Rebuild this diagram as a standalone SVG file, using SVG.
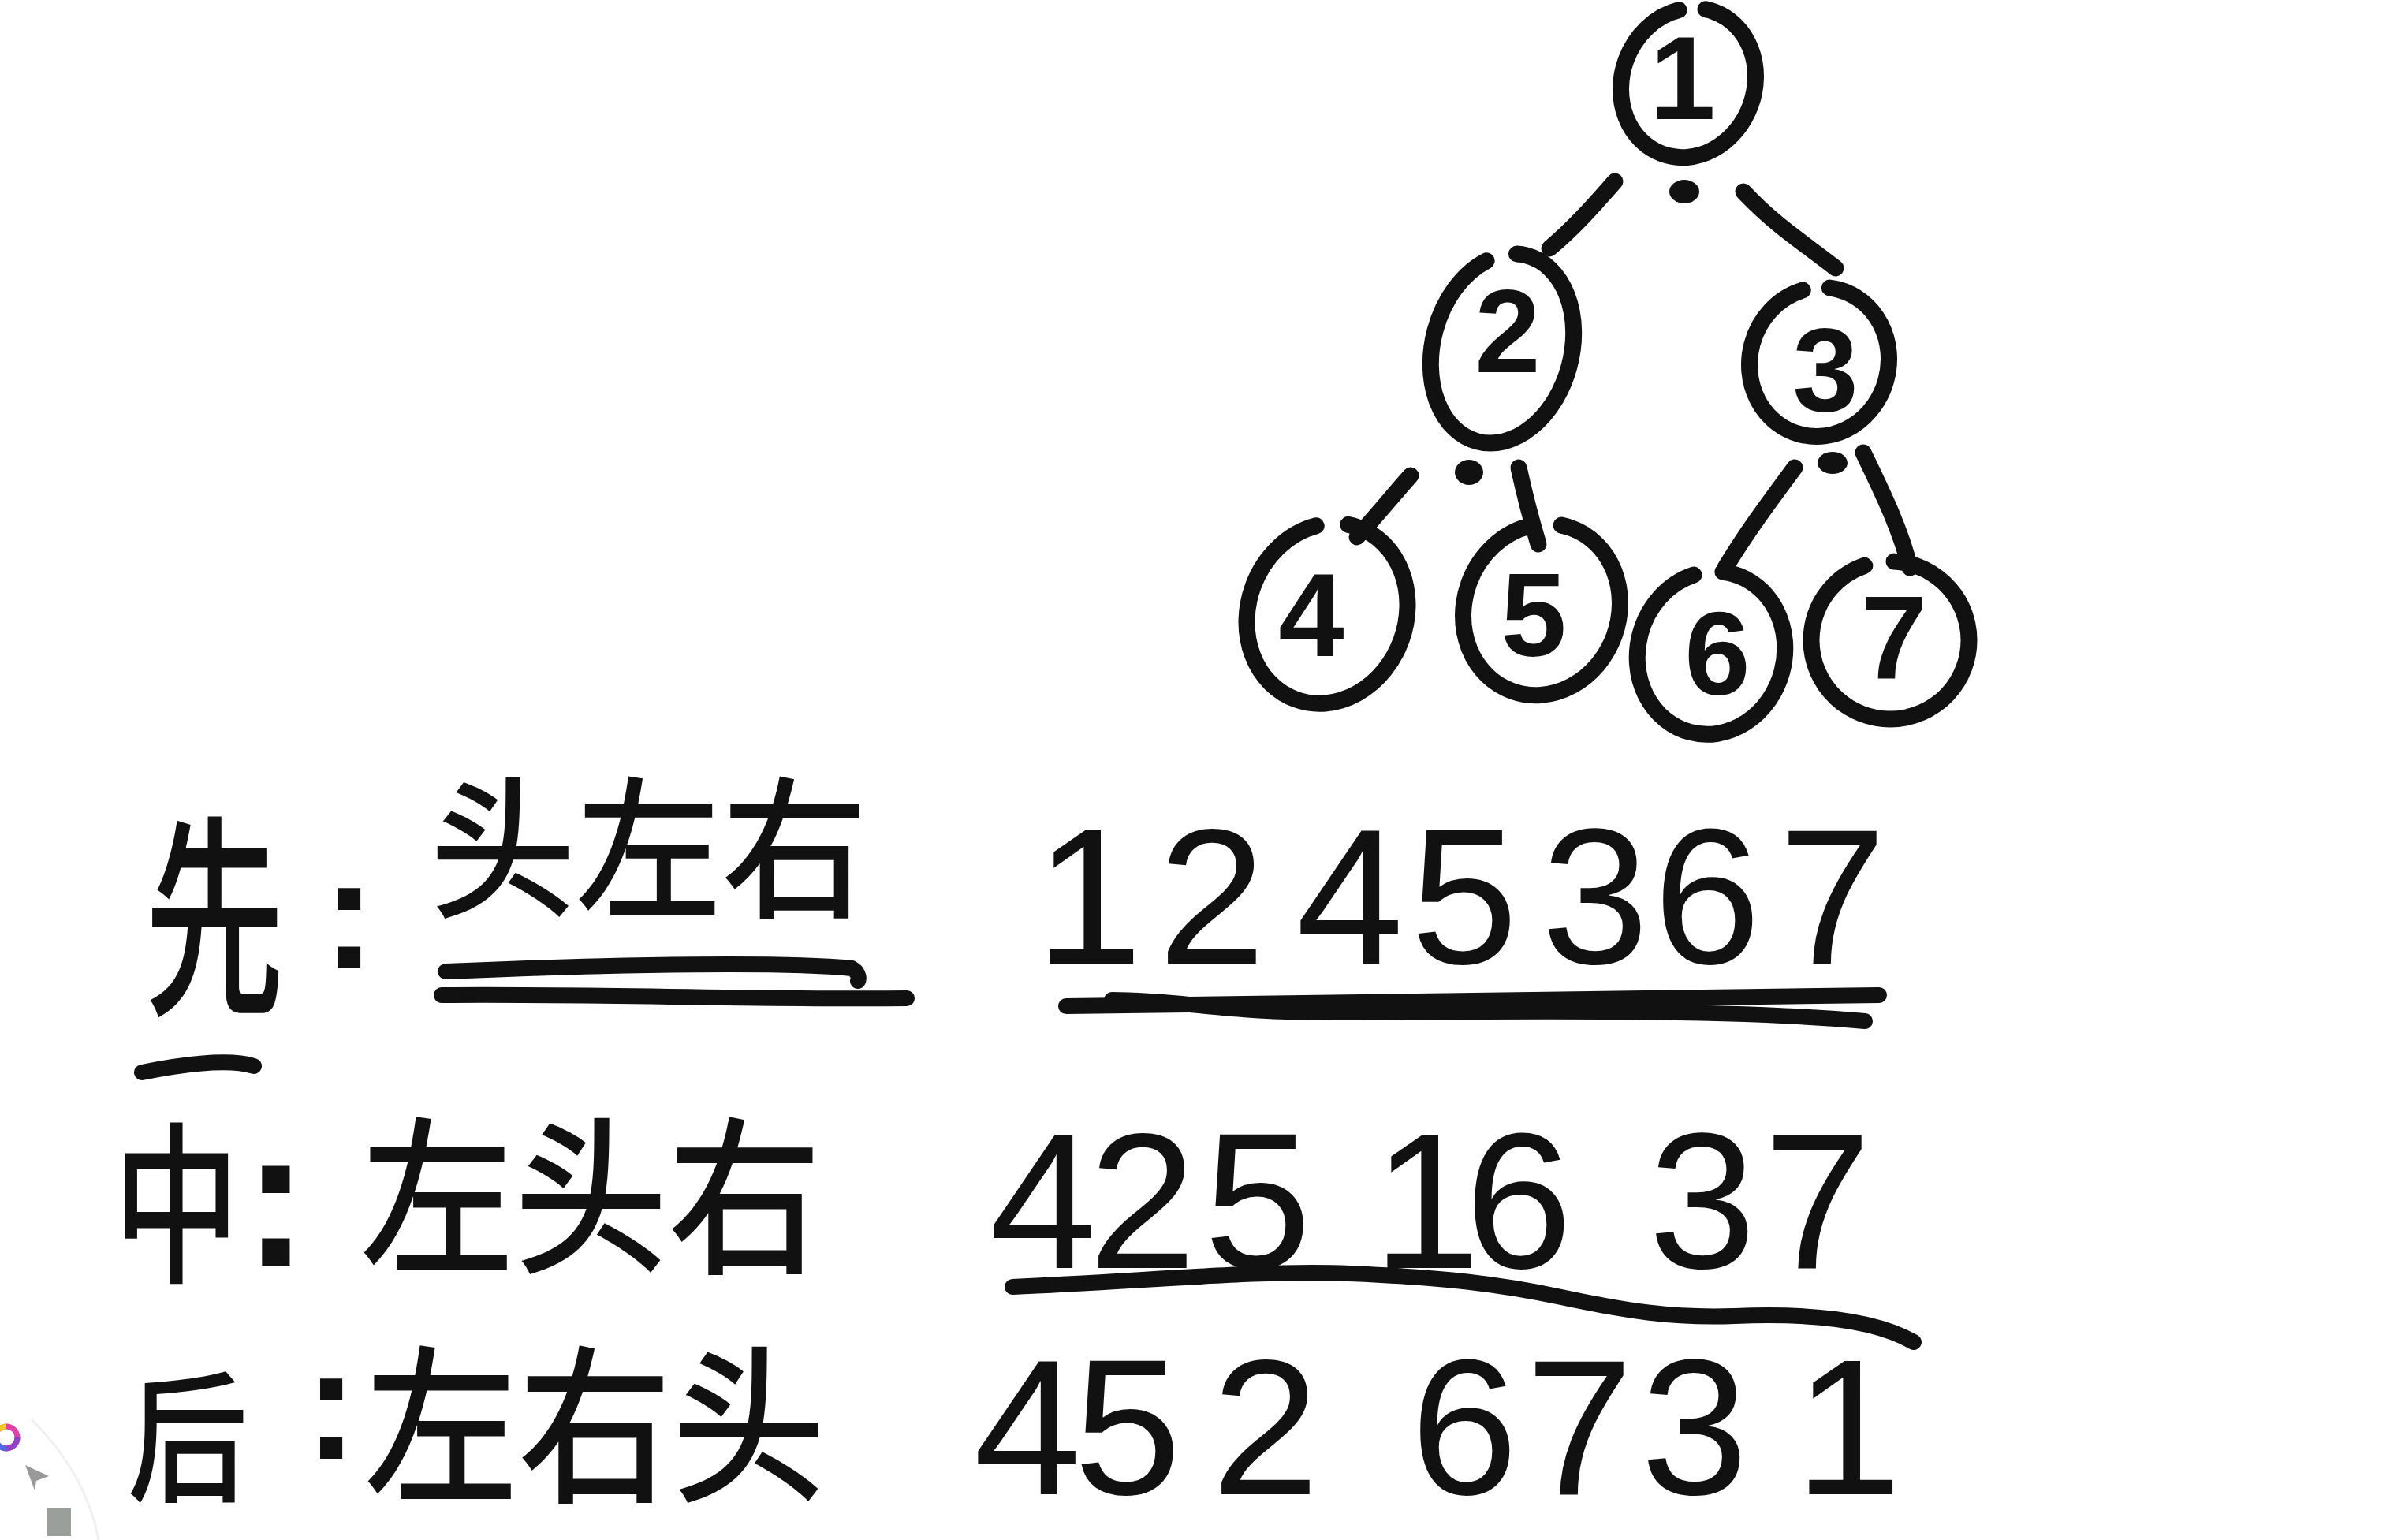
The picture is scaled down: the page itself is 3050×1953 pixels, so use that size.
<svg xmlns="http://www.w3.org/2000/svg" width="3050" height="1953" viewBox="0 0 3050 1953">
<style>
.ring{fill:none;stroke:#111;stroke-width:21;stroke-linecap:round;stroke-dasharray:94 6;stroke-dashoffset:27}
.edge{fill:none;stroke:#111;stroke-width:21;stroke-linecap:round}
.dot{fill:#111}
.nd{font-family:"Liberation Sans",Arial,sans-serif;font-weight:bold;font-size:150px;fill:#111;text-anchor:middle}
.cjk{font-family:"Noto Sans CJK SC","Noto Sans",sans-serif;font-weight:500;fill:#111}
.num{font-family:"Liberation Sans",Arial,sans-serif;font-size:245px;fill:#111;text-anchor:middle}
.col{font-family:"Liberation Sans",Arial,sans-serif;font-weight:bold;fill:#111;text-anchor:middle}
.ul{fill:none;stroke:#111;stroke-width:20;stroke-linecap:round}
</style>
<rect width="3050" height="1953" fill="#fff"/>
<g id="connectors">
<path class="edge" d="M2048,230 C2020,262 1995,290 1965,315"/>
<path class="edge" d="M2211,243 C2250,285 2290,310 2328,340"/>
<path class="edge" d="M1789,603 C1765,630 1745,655 1721,681"/>
<path class="edge" d="M1926,593 C1933,625 1942,660 1951,690"/>
<path class="edge" d="M2276,593 C2245,635 2215,675 2188,720"/>
<path class="edge" d="M2363,574 C2385,620 2410,670 2422,720"/>
<ellipse class="dot" cx="2136" cy="243" rx="19" ry="15"/>
<ellipse class="dot" cx="1863" cy="599" rx="18" ry="16"/>
<ellipse class="dot" cx="2324" cy="587" rx="19" ry="14"/>
</g>
<g id="node-1"><ellipse class="ring" pathLength="100" cx="2141" cy="105" rx="84" ry="96" transform="rotate(20 2141 105)"/><text class="nd" x="2134" y="151">1</text></g>
<g id="node-2"><ellipse class="ring" pathLength="100" cx="1905" cy="442" rx="88" ry="122" transform="rotate(15 1905 442)"/><text class="nd" x="1912" y="472">2</text></g>
<g id="node-3"><ellipse class="ring" pathLength="100" cx="2307" cy="459" rx="88" ry="95" transform="rotate(15 2307 459)"/><text class="nd" x="2315" y="521">3</text></g>
<g id="node-4"><ellipse class="ring" pathLength="100" cx="1683" cy="778" rx="100" ry="116" transform="rotate(20 1683 778)"/><text class="nd" x="1663" y="832">4</text></g>
<g id="node-5"><ellipse class="ring" pathLength="100" cx="1955" cy="773" rx="98" ry="110" transform="rotate(20 1955 773)"/><text class="nd" x="1945" y="832">5</text></g>
<g id="node-6"><ellipse class="ring" pathLength="100" cx="2170" cy="828" rx="93" ry="104" transform="rotate(15 2170 828)"/><text class="nd" x="2178" y="881">6</text></g>
<g id="node-7"><ellipse class="ring" pathLength="100" cx="2397" cy="812" rx="100" ry="100" transform="rotate(10 2397 812)"/><text class="nd" x="2402" y="861">7</text></g>
<g id="labels">
<text class="cjk" font-size="210" text-anchor="middle" transform="translate(272,1266) scale(0.85,1.3)">先</text>
<text class="col" x="443" y="1228" font-size="200">:</text>
<text class="cjk" font-size="185" transform="translate(545,1149) scale(1,1.05)">头左右</text>
<path class="ul" d="M565,1232 C800,1222 1000,1220 1080,1228 C1088,1232 1090,1240 1088,1244"/>
<path class="ul" d="M560,1262 C750,1260 950,1268 1150,1266"/>
<path class="ul" d="M180,1360 C230,1350 290,1342 322,1352"/>
<text class="cjk" font-size="200" text-anchor="middle" transform="translate(224,1610) scale(0.8,1.1)">中</text>
<text class="col" x="350" y="1605" font-size="250">:</text>
<text class="cjk" font-size="195" transform="translate(457,1598) scale(1,1.1)">左头右</text>
<text class="cjk" font-size="180" text-anchor="middle" transform="translate(238,1890) scale(0.85,1)">后</text>
<text class="col" x="420" y="1850" font-size="200">:</text>
<text class="cjk" font-size="195" transform="translate(462,1888) scale(1,1.1)">左右头</text>
</g>
<g id="sequences">
<text class="num" x="1381 1537 1712 1857 2023 2165 2324" y="1222">1245367</text>
<path class="ul" d="M1352,1276 C1600,1272 1900,1270 2383,1262"/>
<path class="ul" d="M1410,1268 C1500,1268 1550,1285 1700,1284 C1950,1282 2200,1280 2365,1295"/>
<text class="num" x="1323 1449 1595 1809 1926 2159 2305" y="1608">4251637</text>
<path class="ul" d="M1284,1632 C1450,1625 1600,1610 1712,1615 C1830,1620 1900,1628 1980,1645 C2060,1662 2120,1672 2200,1669 C2300,1665 2380,1675 2427,1702"/>
<text class="num" x="1303 1430 1605 1857 2003 2149 2344" y="1895">4526731</text>
</g>
<g id="toolbar" opacity="0.85">
<circle cx="8" cy="1823" r="14" fill="none" stroke="#e0209a" stroke-width="7"/>
<path d="M-6,1823 A14,14 0 0 1 8,1809" fill="none" stroke="#f0c000" stroke-width="7"/>
<path d="M8,1837 A14,14 0 0 1 -6,1823" fill="none" stroke="#3050e0" stroke-width="7"/>
<path d="M22,1823 A14,14 0 0 1 8,1837" fill="none" stroke="#8020c0" stroke-width="7"/>
<path d="M32,1858 L62,1872 L46,1878 L44,1890 Z" fill="#888"/>
<rect x="60" y="1912" width="30" height="36" fill="#8a8f8a"/>
<path d="M40,1800 Q110,1870 125,1953" fill="none" stroke="#eee" stroke-width="3"/>
</g>
</svg>
